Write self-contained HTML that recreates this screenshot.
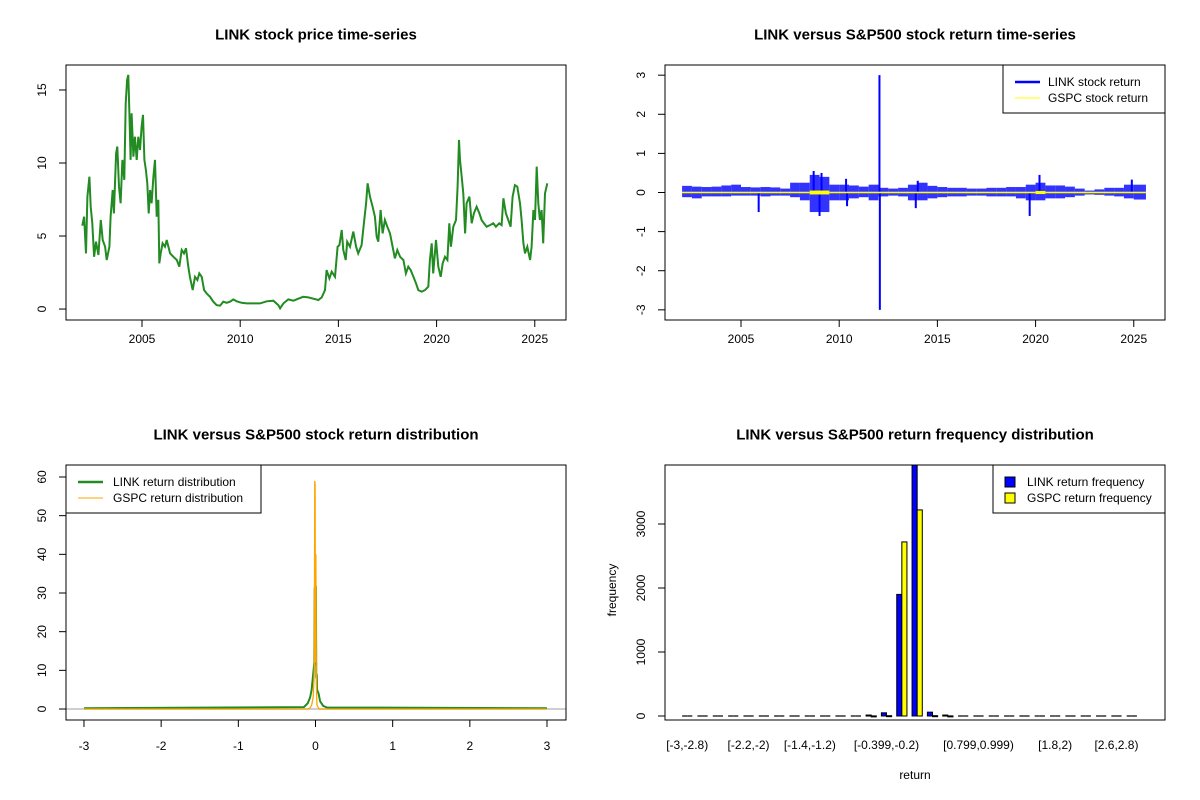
<!DOCTYPE html>
<html><head><meta charset="utf-8"><style>
html,body{margin:0;padding:0;background:#fff;}
svg{display:block;font-family:"Liberation Sans",Arial,sans-serif;}
</style></head><body>
<svg id="root" width="1200" height="800" viewBox="0 0 1200 800"></svg>
<script>
// ---------- DATA ----------
const priceYears=[2001.96,2002.05,2002.15,2002.22,2002.32,2002.39,2002.47,2002.56,2002.66,2002.78,2002.90,2003.00,2003.12,2003.20,2003.34,2003.40,2003.51,2003.57,2003.68,2003.74,2003.83,2003.91,2004.00,2004.10,2004.17,2004.24,2004.30,2004.36,2004.42,2004.47,2004.56,2004.64,2004.73,2004.81,2004.90,2004.98,2005.05,2005.12,2005.20,2005.27,2005.34,2005.41,2005.49,2005.58,2005.66,2005.75,2005.83,2005.88,2005.95,2006.05,2006.17,2006.26,2006.43,2006.60,2006.77,2006.90,2007.02,2007.14,2007.24,2007.36,2007.44,2007.58,2007.70,2007.82,2007.92,2008.04,2008.16,2008.29,2008.46,2008.63,2008.80,2008.97,2009.14,2009.31,2009.48,2009.65,2009.82,2010.07,2010.33,2010.67,2011.01,2011.35,2011.69,2011.94,2012.03,2012.20,2012.45,2012.71,2012.96,2013.21,2013.47,2013.72,2013.98,2014.15,2014.32,2014.40,2014.54,2014.66,2014.83,2014.96,2015.05,2015.17,2015.25,2015.37,2015.45,2015.59,2015.76,2015.90,2016.01,2016.18,2016.30,2016.41,2016.49,2016.61,2016.74,2016.86,2016.95,2017.03,2017.15,2017.25,2017.37,2017.49,2017.63,2017.76,2017.88,2018.00,2018.14,2018.31,2018.44,2018.56,2018.68,2018.82,2018.95,2019.07,2019.24,2019.41,2019.58,2019.66,2019.75,2019.83,2019.97,2020.09,2020.21,2020.31,2020.43,2020.55,2020.65,2020.73,2020.85,2020.99,2021.07,2021.14,2021.19,2021.28,2021.36,2021.45,2021.53,2021.67,2021.79,2021.90,2022.04,2022.18,2022.29,2022.41,2022.55,2022.72,2022.89,2023.02,2023.19,2023.31,2023.40,2023.53,2023.65,2023.77,2023.87,2023.99,2024.11,2024.25,2024.33,2024.42,2024.50,2024.62,2024.76,2024.84,2024.93,2025.01,2025.10,2025.18,2025.26,2025.35,2025.43,2025.52,2025.64];
const priceValues=[5.71,6.32,3.81,7.69,9.06,7.01,5.87,3.58,4.61,3.70,6.10,4.73,4.27,3.36,4.27,6.32,8.15,6.55,10.66,11.12,8.38,7.24,10.21,8.84,14.09,15.68,16.03,13.40,10.21,13.40,10.43,11.80,10.21,11.80,10.89,12.49,13.29,10.21,9.52,8.61,6.55,8.15,7.24,9.06,10.21,6.32,7.47,3.13,3.81,4.50,4.27,4.73,3.81,3.58,3.36,2.90,4.04,3.81,4.16,2.90,2.21,1.30,2.21,1.99,2.44,2.21,1.30,1.07,0.84,0.50,0.27,0.23,0.50,0.43,0.50,0.66,0.53,0.43,0.39,0.39,0.39,0.53,0.57,0.27,0.05,0.39,0.66,0.57,0.71,0.84,0.80,0.71,0.62,0.80,1.30,2.67,2.10,2.56,2.21,4.27,4.38,5.41,4.04,3.36,4.61,4.27,5.30,4.27,3.81,4.38,5.87,7.24,8.61,7.69,7.01,6.32,4.95,4.61,6.78,5.18,6.10,5.64,5.18,4.27,3.47,4.04,3.58,3.36,2.44,2.90,2.67,2.21,1.76,1.30,1.19,1.30,1.53,3.36,4.50,2.44,4.73,2.90,2.21,3.13,3.58,3.36,5.87,4.27,5.64,6.10,8.38,11.58,10.21,9.06,7.92,5.18,7.24,7.69,5.87,6.55,7.01,6.55,6.10,5.87,5.64,5.75,5.87,5.64,5.87,5.75,7.58,6.55,6.10,5.64,7.69,8.49,8.38,7.24,6.10,4.50,3.81,4.27,3.36,4.27,6.78,6.10,9.75,7.24,6.10,6.78,4.50,7.92,8.61];
const yearTicks=[2005,2010,2015,2020,2025];
const priceTicks=[0,5,10,15];

const retBinStart=[2002.0,2002.5,2003.0,2003.5,2004.0,2004.5,2005.0,2005.5,2006.0,2006.5,2007.0,2007.5,2008.0,2008.5,2009.0,2009.5,2010.0,2010.5,2011.0,2011.5,2012.0,2012.5,2013.0,2013.5,2014.0,2014.5,2015.0,2015.5,2016.0,2016.5,2017.0,2017.5,2018.0,2018.5,2019.0,2019.5,2020.0,2020.5,2021.0,2021.5,2022.0,2022.5,2023.0,2023.5,2024.0,2024.5,2025.0];
const retHigh=[.17,.15,.14,.15,.18,.2,.14,.13,.14,.13,.1,.25,.25,.45,.4,.2,.2,.18,.15,.2,.12,.1,.12,.2,.25,.17,.14,.12,.12,.1,.1,.12,.12,.14,.14,.2,.25,.18,.18,.15,.1,.05,.08,.12,.12,.2,.2];
const retLow=[-.12,-.15,-.1,-.1,-.1,-.08,-.08,-.08,-.1,-.08,-.08,-.12,-.2,-.5,-.5,-.2,-.2,-.15,-.12,-.2,-.1,-.08,-.1,-.2,-.2,-.15,-.12,-.1,-.1,-.08,-.08,-.1,-.1,-.1,-.15,-.2,-.2,-.15,-.15,-.12,-.08,-.05,-.06,-.08,-.1,-.15,-.18];
const spikeYears=[2005.9,2008.7,2009.1,2009.0,2010.35,2010.4,2012.05,2012.07,2013.9,2014.0,2019.7,2020.2,2024.9];
const spikeValues=[-0.5,0.55,0.5,-0.6,0.35,-0.35,3,-3,-0.4,0.3,-0.6,0.45,0.33];
const gspcBinStart=[2002.0,2008.5,2009.5,2020.0,2020.5];
const gspcAmp=[0.02,0.05,0.02,0.04,0.02];
const retTicks=[-3,-2,-1,0,1,2,3];

const densX=[-3,-0.15,-0.1,-0.07,-0.05,-0.03,-0.015,-0.01,-0.005,0,0.005,0.01,0.015,0.02,0.04,0.06,0.1,0.15,3];
const linkDens=[0.2,0.5,1.5,3,5,9,12,31.5,12,11.8,31.8,8,9,5,4,2,0.8,0.4,0.2];
const gspcDens=[0,0,0,0.3,1,3,10,59,58,12,40,9,3,1,0.2,0,0,0,0];
const densXTicks=[-3,-2,-1,0,1,2,3];
const densYTicks=[0,10,20,30,40,50,60];

const binLabels=["[-3,-2.8)","[-2.2,-2)","[-1.4,-1.2)","[-0.399,-0.2)","[0.799,0.999)","[1.8,2)","[2.6,2.8)"];
const binLabelIdx=[0,4,8,13,19,24,28];
const linkFreq=[0,0,0,0,0,0,0,0,0,0,0,0,15,50,1900,3950,60,15,0,0,0,0,0,0,0,0,0,0,0,0];
const gspcFreq=[0,0,0,0,0,0,0,0,0,0,0,0,2,5,2720,3220,5,2,0,0,0,0,0,0,0,0,0,0,0,0];
const freqTicks=[0,1000,2000,3000];

// ---------- HELPERS ----------
const NS="http://www.w3.org/2000/svg";
const root=document.getElementById('root');
function mk(tag,attrs,parent){const e=document.createElementNS(NS,tag);for(const k in attrs)e.setAttribute(k,attrs[k]);(parent||root).appendChild(e);return e;}
function lin(d0,d1,r0,r1){return v=>r0+(v-d0)/(d1-d0)*(r1-r0);}
function txt(x,y,s,opts,parent){const t=mk('text',Object.assign({x:x,y:y,'font-size':12,'text-anchor':'middle','dominant-baseline':'central',fill:'#000'},opts||{}),parent);t.textContent=s;return t;}

function panel(name,L,R,T,B,title){
  const g=mk('g',{});
  
  
  const tt=txt((L+R)/2,T-30,title,{'font-size':15,'font-weight':'bold'},g);
  
  
  return g;
}
function frame(g,L,R,T,B){
  const f=mk('rect',{x:L,y:T,width:R-L,height:B-T,fill:'none',stroke:'#000','stroke-width':1},g);
  
  
}
function xAxis(g,ticks,sx,B,labels,ly){
  const ax=mk('g',{},g);
  
  
  mk('line',{x1:sx(ticks[0]),x2:sx(ticks[ticks.length-1]),y1:B,y2:B,stroke:'#000'},ax);
  ticks.forEach((t,i)=>{mk('line',{x1:sx(t),x2:sx(t),y1:B,y2:B+7,stroke:'#000'},ax);
    const l=txt(sx(t),ly,labels?labels[i]:String(t),{},ax);
    
    });
}
function yAxis(g,ticks,sy,L,lx){
  const ax=mk('g',{},g);
  
  
  mk('line',{x1:L,x2:L,y1:sy(ticks[0]),y2:sy(ticks[ticks.length-1]),stroke:'#000'},ax);
  ticks.forEach(t=>{mk('line',{x1:L-7,x2:L,y1:sy(t),y2:sy(t),stroke:'#000'},ax);
    const l=txt(lx,sy(t),String(t),{transform:`rotate(-90 ${lx} ${sy(t)})`},ax);
    
    });
}

// ---------- PANEL 1: price ----------
{
  const L=66,R=566,T=65,B=320;
  const g=panel('price-panel',L,R,T,B,'LINK stock price time-series');
  const sx=lin(2001.13,2026.59,L,R), sy=lin(-0.75,16.71,B,T);
  const pts=priceYears.map((y,i)=>sx(y).toFixed(1)+','+sy(priceValues[i]).toFixed(1)).join(' ');
  const pl=mk('polyline',{points:pts,fill:'none',stroke:'#228B22','stroke-width':2,'stroke-linejoin':'miter'},g);
  
  
  frame(g,L,R,T,B);
  xAxis(g,yearTicks,sx,B,null,339);
  yAxis(g,priceTicks,sy,L,42);
}

// ---------- PANEL 2: returns ----------
{
  const L=665,R=1165,T=65,B=320;
  const g=panel('returns-panel',L,R,T,B,'LINK versus S&P500 stock return time-series');
  const sx=lin(2001.13,2026.59,L,R), sy=lin(-3.26,3.26,B,T);
  retBinStart.forEach((y,i)=>{
    const x0=sx(y), x1=sx(i<retBinStart.length-1?retBinStart[i+1]:2025.62);
    const r=mk('rect',{x:x0,y:sy(retHigh[i]),width:x1-x0,height:sy(retLow[i])-sy(retHigh[i]),fill:'#0000FF','fill-opacity':0.8},g);
    
    
  });
  spikeYears.forEach((y,i)=>{
    const l=mk('line',{x1:sx(y),x2:sx(y),y1:sy(0),y2:sy(spikeValues[i]),stroke:'#0000FF','stroke-width':2},g);
    
    
  });
  gspcBinStart.forEach((y,i)=>{
    const x0=sx(y), x1=sx(i<gspcBinStart.length-1?gspcBinStart[i+1]:2025.62);
    const r=mk('rect',{x:x0,y:sy(gspcAmp[i]),width:x1-x0,height:sy(-gspcAmp[i])-sy(gspcAmp[i]),fill:'#FFFF00'},g);
    
    
  });
  frame(g,L,R,T,B);
  xAxis(g,yearTicks,sx,B,null,339);
  yAxis(g,retTicks,sy,L,641);
  const lg=mk('g',{},g);
  
  
  mk('rect',{x:1003,y:65,width:162,height:48,fill:'#fff',stroke:'#000'},lg);
  mk('line',{x1:1015,x2:1040,y1:82,y2:82,stroke:'#0000FF','stroke-width':2.5},lg);
  mk('line',{x1:1015,x2:1040,y1:98,y2:98,stroke:'#FFFF00','stroke-width':1},lg);
  const a=txt(1048,82,'LINK stock return',{'text-anchor':'start'},lg);
  
  
  const b=txt(1048,98,'GSPC stock return',{'text-anchor':'start'},lg);
  
  
}

// ---------- PANEL 3: density ----------
{
  const L=66,R=566,T=465,B=720;
  const g=panel('density-panel',L,R,T,B,'LINK versus S&P500 stock return distribution');
  const sx=lin(-3.233,3.246,L,R), sy=lin(-2.84,63.1,B,T);
  const base=mk('line',{x1:L,x2:R,y1:sy(0),y2:sy(0),stroke:'#BEBEBE','stroke-width':1.5},g);
  
  
  const p1=mk('polyline',{points:densX.map((x,i)=>sx(x).toFixed(2)+','+sy(linkDens[i]).toFixed(1)).join(' '),fill:'none',stroke:'#228B22','stroke-width':2},g);
  
  
  const p2=mk('polyline',{points:densX.map((x,i)=>sx(x).toFixed(2)+','+sy(gspcDens[i]).toFixed(1)).join(' '),fill:'none',stroke:'#FFA500','stroke-width':1.3},g);
  
  
  frame(g,L,R,T,B);
  xAxis(g,densXTicks,sx,B,null,746);
  yAxis(g,densYTicks,sy,L,42);
  const lg=mk('g',{},g);
  
  
  mk('rect',{x:66,y:465,width:195,height:48,fill:'#fff',stroke:'#000'},lg);
  mk('line',{x1:78,x2:103,y1:482,y2:482,stroke:'#228B22','stroke-width':2.5},lg);
  mk('line',{x1:78,x2:103,y1:498,y2:498,stroke:'#FFA500','stroke-width':1},lg);
  const a=txt(113,482,'LINK return distribution',{'text-anchor':'start'},lg);
  
  
  const b=txt(113,498,'GSPC return distribution',{'text-anchor':'start'},lg);
  
  
}

// ---------- PANEL 4: histogram ----------
{
  const L=665,R=1165,T=465,B=720;
  const g=panel('frequency-panel',L,R,T,B,'LINK versus S&P500 return frequency distribution');
  const su=lin(0,1,677,682.11), sy=lin(-62.5,3922,B,T);
  const cp=mk('clipPath',{id:'histclip'},g);
  mk('rect',{x:L,y:T,width:R-L,height:B-T},cp);
  const bars=mk('g',{'clip-path':'url(#histclip)'},g);
  function bar(v,u,fill,name){
    const x=su(u), w=su(1)-su(0);
    if(v<=0){
      const l=mk('line',{x1:x,x2:x+w,y1:sy(0),y2:sy(0),stroke:'#000','stroke-width':1.2},bars);
      
      
      return;
    }
    const r=mk('rect',{x:x,y:sy(v),width:w,height:Math.max(1,sy(0)-sy(v)),fill:fill,stroke:'#000','stroke-width':1},bars);
    
    
  }
  linkFreq.forEach((v,i)=>bar(v,3*i+1,'#0000FF','link-frequency-bar'));
  gspcFreq.forEach((v,i)=>bar(v,3*i+2,'#FFFF00','gspc-frequency-bar'));
  frame(g,L,R,T,B);
  binLabelIdx.forEach((idx,i)=>{
    const l=txt(su(3*idx+2),745,binLabels[i],{},g);
    
    
  });
  yAxis(g,freqTicks,sy,L,641);
  const xt=txt(915,775,'return',{},g);
  
  
  const yt=txt(612,590,'frequency',{transform:'rotate(-90 612 590)'},g);
  
  
  const lg=mk('g',{},g);
  
  
  mk('rect',{x:993,y:465,width:172,height:48,fill:'#fff',stroke:'#000'},lg);
  mk('rect',{x:1005,y:477,width:10,height:10,fill:'#0000FF',stroke:'#000'},lg);
  mk('rect',{x:1005,y:493,width:10,height:10,fill:'#FFFF00',stroke:'#000'},lg);
  const a=txt(1027,482,'LINK return frequency',{'text-anchor':'start'},lg);
  
  
  const b=txt(1027,498,'GSPC return frequency',{'text-anchor':'start'},lg);
  
  
}
</script>
</body></html>
